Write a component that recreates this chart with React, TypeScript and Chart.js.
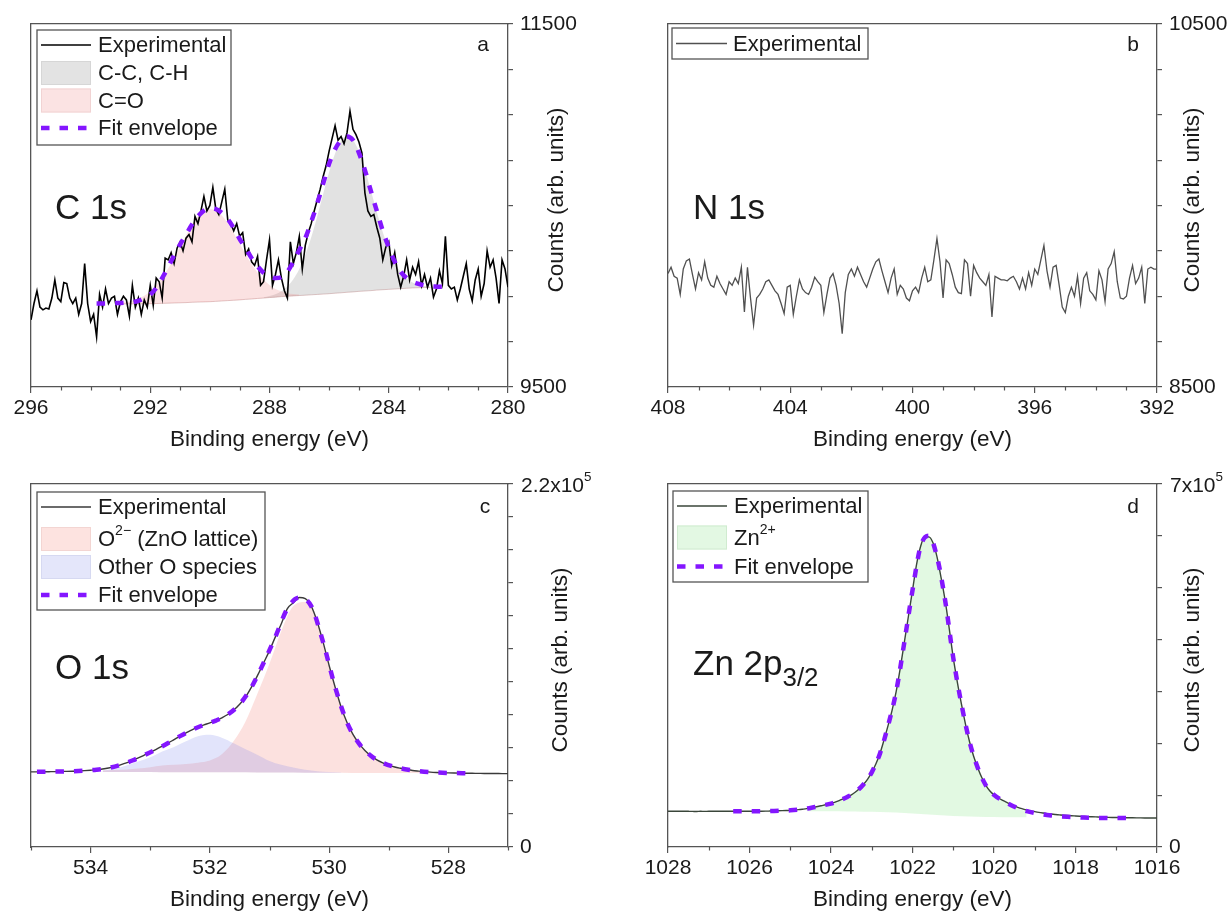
import React, { useEffect, useRef } from 'react';
import { Chart, registerables } from 'chart.js';
Chart.register(...registerables);

const FONT = '"Liberation Sans", Arial, Helvetica, sans-serif';
const AXIS = '#555555';
const TXT = '#1a1a1a';
const FIT = 'rgb(132, 22, 255)';

// ---------------- Panel a: C 1s ----------------
const C1S_EXP_START = 296.0;
const c1sExperimental = [
  9870, 9960, 10030, 9940, 9925, 9935, 9930, 9990, 10090, 9990,
  9970, 10075, 10070, 9990, 9960, 9990, 9900, 9960, 10180, 9960,
  9860, 9900, 9776, 10010, 9940, 10040, 9960, 9990, 10000, 9900,
  9970, 10000, 9980, 9890, 10060, 9940, 9990, 9900, 9980, 9940,
  10060, 9950, 10100, 10080, 9990, 10210, 10200, 10240, 10180, 10265,
  10300, 10250, 10320, 10340, 10300, 10440, 10400, 10470, 10550, 10470,
  10500, 10600, 10480, 10450, 10520, 10590, 10420, 10400, 10360, 10400,
  10330, 10350, 10230, 10260, 10190, 10170, 10220, 10060, 10080, 10200,
  10310, 10060, 10120, 10200, 10100, 10030, 9990, 10300, 10180, 10240,
  10330, 10150, 10280, 10350, 10400, 10470, 10530, 10590, 10660, 10720,
  10800, 10870, 10940, 10860, 10880, 10840, 10900, 11020, 10920, 10890,
  10850, 10790, 10570, 10470, 10440, 10450, 10380, 10320, 10200, 10270,
  10300, 10170, 10240, 10120, 10050, 10110, 10200, 10090, 10160, 10120,
  10190, 10060, 10120, 10050, 10100, 9995, 10040, 10140, 10070, 10330,
  10060, 10040, 10050, 9980, 10040, 10110, 10180, 10040, 9975, 10090,
  10150, 10000, 10070, 10250, 10160, 10200, 10100, 9960, 10200, 10150,
  10050,
];
const C1S_FIT_START = 293.8;
const c1sFit = [
  9960, 9960, 9960, 9962, 9963, 9965, 9968, 9975, 9990, 10010,
  10045, 10100, 10160, 10225, 10285, 10340, 10395, 10440, 10472, 10485,
  10480, 10460, 10425, 10375, 10315, 10265, 10210, 10165, 10130, 10110,
  10100, 10105, 10135, 10190, 10255, 10320, 10410, 10510, 10620, 10730,
  10810, 10860, 10880, 10860, 10790, 10695, 10580, 10470, 10360, 10270,
  10190, 10135, 10100, 10080, 10068, 10060, 10055, 10053, 10052, 10052,
];
const C1S_BG_START = 293.0;
const c1sBackground = [
  9958, 9958, 9958, 9958, 9958, 9959, 9960, 9961, 9962, 9963,
  9964, 9965, 9967, 9968, 9969, 9970, 9972, 9974, 9976, 9978,
  9980, 9983, 9985, 9988, 9990, 9993, 9995, 9998, 10000, 10002,
  10004, 10006, 10008, 10010, 10012, 10014, 10017, 10019, 10022, 10024,
  10027, 10029, 10031, 10034, 10036, 10038, 10040, 10042, 10044, 10046,
  10047, 10048, 10049,
];
const C1S_CO_START = 293.0;
const c1sCO = [
  9964, 9968, 9975, 9987, 10003, 10028, 10061, 10103, 10153, 10211,
  10274, 10335, 10393, 10439, 10469, 10480, 10472, 10445, 10402, 10348,
  10290, 10231, 10176, 10130, 10091, 10062, 10040, 10027, 10017, 10012,
  10010,
];
const C1S_CC_START = 288.2;
const c1sCC = [
  9994, 10001, 10011, 10028, 10054, 10093, 10150, 10228, 10325, 10440,
  10564, 10684, 10787, 10856, 10882, 10861, 10797, 10699, 10583, 10464,
  10353, 10260, 10186, 10133, 10098, 10076, 10063, 10056, 10053,
];

// ---------------- Panel b: N 1s ----------------
const N1S_EXP_START = 408.0;
const n1sExperimental = [
  9125, 9160, 9110, 9100, 9010, 9150, 9195, 9205, 9120, 9040,
  9130, 9090, 9190, 9100, 9060, 9050, 9110, 9070, 9040, 9010,
  9080, 9060, 9100, 9070, 9160, 8914, 9160, 8990, 8840, 8990,
  9010, 9040, 9080, 9090, 9060, 9030, 9010, 8960, 8905, 9050,
  9060, 8900, 9000, 9090, 9040, 9020, 9010, 9050, 9105, 9080,
  9060, 8910, 9010, 9100, 9125, 9060, 8960, 8794, 9020, 9120,
  9150, 9110, 9160, 9120, 9080, 9050, 9100, 9150, 9190, 9205,
  9140, 9080, 9020, 9100, 9150, 9010, 9060, 9040, 8990, 8975,
  9030, 9050, 9020, 9100, 9160, 9080, 9090, 9200, 9318, 9190,
  8990, 9200, 9180, 9120, 9050, 9020, 9015, 9200, 9180, 9000,
  9170, 9130, 9100, 9080, 9060, 9120, 8886, 9110, 9100, 9090,
  9090, 9085, 9100, 9110, 9080, 9040, 9100, 9040, 9130, 9060,
  9150, 9120, 9200, 9280, 9140, 9050, 9160, 9170, 9060, 8940,
  8910, 9000, 9050, 9000, 9110, 8960, 9100, 9130, 9030, 9010,
  8980, 9140, 9090, 8970, 9150, 9180, 9245, 9080, 8990, 8985,
  9000, 9100, 9170, 9070, 9100, 9160, 8960, 9150, 9160, 9150,
  9150,
];

// ---------------- Panel c: O 1s ----------------
const O1S_EXP_START = 535.0;
const o1sExperimental = [
  45500, 45550, 45600, 45650, 45700, 45780, 45850, 45950, 46100, 46300,
  46550, 46850, 47300, 47900, 48700, 49800, 51000, 52400, 54000, 55700,
  57400, 59200, 61100, 63000, 65100, 67200, 69100, 71000, 72700, 74000,
  75200, 76600, 78300, 80300, 83000, 86500, 91000, 97000, 104000, 111500,
  119000, 127500, 135500, 144500, 148000, 151200, 150500, 146000, 136500, 124000,
  110000, 97000, 85000, 75500, 68300, 62800, 58500, 55300, 52800, 51000,
  49600, 48500, 47700, 47000, 46400, 46000, 45650, 45350, 45150, 45000,
  44900, 44820, 44750, 44700, 44660, 44620, 44580, 44550, 44520, 44500,
  44480,
];
const O1S_FIT_START = 534.9;
const o1sFit = [
  45550, 45650, 45780, 45950, 46300, 46850, 47900, 49800, 52400, 55700,
  59200, 63000, 67200, 71000, 74000, 76600, 80300, 86500, 97000, 111500,
  127500, 144500, 151200, 146000, 124000, 97000, 75500, 62800, 55300, 51000,
  48500, 47000, 46000, 45350, 45000, 44820, 44700,
];
const O1S_BG_START = 533.8;
const o1sBackground = [
  45420, 45400, 45400, 45390, 45380, 45370, 45360, 45350, 45320, 45300,
  45280, 45260, 45230, 45190, 45150, 45120, 45080, 45050, 45020, 44980,
  44950, 44920, 44890, 44860, 44830, 44800, 44780, 44760, 44740, 44720,
];
const O1S_LATTICE_START = 533.8;
const o1sLattice = [
  46320, 46600, 47000, 47590, 48380, 49370, 49860, 50350, 51120, 52500,
  56280, 64260, 76230, 93190, 111150, 131120, 146080, 148550, 136020, 109480,
  84750, 68120, 58390, 52760, 49530, 47800, 46380, 45660, 45140, 44920,
];
const O1S_OTHER_START = 533.8;
const o1sOther = [
  46420, 47500, 49400, 51890, 54380, 57870, 60660, 64050, 67120, 68000,
  66280, 62860, 59230, 55790, 52150, 49820, 48180, 46850, 45920, 45380,
  45100,
];

// ---------------- Panel d: Zn 2p3/2 ----------------
const ZN_EXP_START = 1028.0;
const znExperimental = [
  68900, 68900, 68900, 68850, 68850, 68800, 68700, 68400, 68800, 68700,
  68850, 68800, 68850, 68850, 68850, 68850, 68850, 68850, 68870, 68890,
  68900, 68920, 68950, 69000, 69100, 69300, 69500, 69800, 70100, 70400,
  70700, 71300, 72000, 72900, 73900, 75400, 77000, 78500, 80300, 82000,
  83700, 86500, 89600, 93000, 96500, 100500, 106000, 113000, 121000, 131000,
  144000, 160000, 180000, 206000, 234000, 264000, 300000, 345000, 395000, 445000,
  495000, 545000, 580000, 598000, 598000, 587000, 560000, 520000, 476000, 422000,
  365000, 318000, 276000, 237000, 203000, 175000, 153000, 134000, 119000, 108000,
  100500, 95000, 90500, 86500, 82500, 79000, 76000, 73600, 71400, 69600,
  68100, 66700, 65500, 64400, 63500, 62700, 62000, 61300, 60700, 60200,
  59800, 59400, 59000, 58600, 58300, 58000, 57700, 57400, 57200, 57000,
  56800, 56650, 56500, 56400, 56300, 56200, 56100, 56050, 56000, 55980,
  55960,
];
const ZN_FIT_START = 1026.4;
const znFit = [
  68850, 68870, 68900, 68950, 69100, 69500, 70100, 70700, 72000, 73900,
  77000, 80300, 83700, 89600, 96500, 106000, 121000, 144000, 180000, 234000,
  300000, 395000, 495000, 580000, 600000, 560000, 476000, 365000, 276000, 203000,
  153000, 119000, 100500, 90000, 81500, 74500, 69200, 65500, 62800, 60800,
  59300, 58200, 57400, 56800, 56400, 56100, 55900, 55800, 55700, 55650,
];
const ZN_BG_START = 1024.6;
const znBackground = [
  69000, 68950, 68900, 68800, 68700, 68600, 68400, 68200, 67900, 67500,
  67000, 66300, 65500, 64500, 63500, 62500, 61500, 60600, 59800, 59200,
  58700, 58300, 58000, 57800, 57600, 57500, 57400, 57300,
];
const ZN_COMP_START = 1024.6;
const znComponent = [
  73000, 76000, 79500, 83000, 89000, 96000, 105500, 120500, 143500, 179500,
  233500, 299500, 394500, 494500, 579500, 599500, 559500, 475500, 364500, 275500,
  202500, 152500, 118500, 100000, 89500, 81000, 74000, 68500,
];

// ---------------- helpers ----------------
function series(start: number, step: number, vals: number[]) {
  return vals.map((v, i) => ({ x: Math.round((start - i * step) * 100) / 100, y: v }));
}

type Seg = { t: string; sup?: boolean; sub?: boolean };
type LegendRow = { kind: 'line' | 'box' | 'dash'; color: string; edge?: string; width?: number; y: number; label: Seg[] };
type Overlay = {
  legend: { x: number; y: number; w: number; h: number; sx0: number; sx1: number; tx: number; rows: LegendRow[] };
  letter: { t: string; x: number; y: number };
  big: { segs: Seg[]; x: number; y: number };
  xTitleY: number;
  yTitleX: number;
  yTitleY: number;
  topLabel?: Seg[];
};
type PanelCfg = {
  ox: number; oy: number; w: number; h: number;
  area: { l: number; t: number; r: number; b: number };
  xMin: number; xMax: number; xMajor: number;
  yMin: number; yMax: number; yStep: number;
  yLabel: (v: number) => string;
  datasets: any[];
  overlay: Overlay;
};

const isMajor = (v: number, major: number) => {
  const m = Math.abs(v % major);
  return m < 1e-6 || Math.abs(m - major) < 1e-6;
};

function drawSegs(ctx: CanvasRenderingContext2D, segs: Seg[], x: number, y: number, size: number) {
  let cx = x;
  for (const s of segs) {
    let fs = size;
    let dy = 0;
    if (s.sup) { fs = size * 0.64; dy = -size * 0.4; }
    if (s.sub) { fs = size * 0.74; dy = size * 0.3; }
    ctx.font = `${fs}px ${FONT}`;
    ctx.fillText(s.t, cx, y + dy);
    cx += ctx.measureText(s.t).width;
  }
}

function overlayPlugin(cfg: PanelCfg) {
  const o = cfg.overlay;
  return {
    id: 'overlay',
    afterDraw(chart: any) {
      const ctx: CanvasRenderingContext2D = chart.ctx;
      const a = chart.chartArea;
      const X = (v: number) => v - cfg.ox;
      const Y = (v: number) => v - cfg.oy;
      ctx.save();
      // minor ticks on the energy axis (shorter than the major ones)
      const xs = chart.scales.x;
      ctx.strokeStyle = AXIS;
      ctx.lineWidth = 1.2;
      for (let e = cfg.xMin; e <= cfg.xMax; e += 1) {
        if (isMajor(e, cfg.xMajor)) continue;
        const px = Math.round(xs.getPixelForValue(e)) + 0.5;
        ctx.beginPath();
        ctx.moveTo(px, a.bottom);
        ctx.lineTo(px, a.bottom + 3.5);
        ctx.stroke();
      }
      // legend box
      const L = o.legend;
      ctx.fillStyle = '#ffffff';
      ctx.fillRect(X(L.x), Y(L.y), L.w, L.h);
      ctx.strokeStyle = AXIS;
      ctx.lineWidth = 1.3;
      ctx.strokeRect(X(L.x), Y(L.y), L.w, L.h);
      for (const r of L.rows) {
        const y = Y(r.y);
        if (r.kind === 'box') {
          ctx.fillStyle = r.color;
          ctx.fillRect(X(L.sx0), y - 12, L.sx1 - L.sx0, 24);
          if (r.edge) {
            ctx.strokeStyle = r.edge;
            ctx.lineWidth = 1;
            ctx.strokeRect(X(L.sx0) + 0.5, y - 11.5, L.sx1 - L.sx0 - 1, 23);
          }
        } else {
          ctx.beginPath();
          ctx.strokeStyle = r.color;
          ctx.lineWidth = r.width || 1.5;
          if (r.kind === 'dash') ctx.setLineDash([8.5, 10]);
          ctx.moveTo(X(L.sx0), y);
          ctx.lineTo(X(L.sx1), y);
          ctx.stroke();
          ctx.setLineDash([]);
        }
        ctx.fillStyle = TXT;
        ctx.textBaseline = 'middle';
        ctx.textAlign = 'left';
        drawSegs(ctx, r.label, X(L.tx), y + 1, 22);
      }
      // panel letter
      ctx.fillStyle = TXT;
      ctx.textAlign = 'center';
      ctx.textBaseline = 'middle';
      ctx.font = `21px ${FONT}`;
      ctx.fillText(o.letter.t, X(o.letter.x), Y(o.letter.y));
      // big label
      ctx.textAlign = 'left';
      ctx.textBaseline = 'alphabetic';
      drawSegs(ctx, o.big.segs, X(o.big.x), Y(o.big.y), 35);
      // x title
      ctx.textAlign = 'center';
      ctx.textBaseline = 'middle';
      ctx.font = `22.5px ${FONT}`;
      ctx.fillText('Binding energy (eV)', (a.left + a.right) / 2, Y(o.xTitleY));
      // y title
      ctx.save();
      ctx.translate(X(o.yTitleX), Y(o.yTitleY));
      ctx.rotate(-Math.PI / 2);
      ctx.fillText('Counts (arb. units)', 0, 0);
      ctx.restore();
      // top y label with superscript
      if (o.topLabel) {
        ctx.textAlign = 'left';
        ctx.textBaseline = 'middle';
        drawSegs(ctx, o.topLabel, a.right + 13, a.top + 2, 21);
      }
      ctx.restore();
    },
  };
}

function buildConfig(cfg: PanelCfg): any {
  const border = { display: true, color: AXIS, width: 1.3 };
  const tickGrid = { display: true, drawOnChartArea: false, drawTicks: true, tickLength: 6, color: AXIS, lineWidth: 1.2 };
  const { l, t, r, b } = cfg.area;
  return {
    type: 'line',
    data: { datasets: cfg.datasets },
    plugins: [overlayPlugin(cfg)],
    options: {
      animation: false,
      responsive: false,
      devicePixelRatio: 1,
      events: [],
      layout: { padding: 0 },
      elements: { point: { radius: 0 } },
      plugins: { legend: { display: false }, tooltip: { enabled: false }, title: { display: false } },
      scales: {
        x: {
          type: 'linear', position: 'bottom', min: cfg.xMin, max: cfg.xMax, reverse: true,
          afterFit: (s: any) => { s.height = cfg.h - b; },
          ticks: {
            stepSize: 1, autoSkip: false, maxRotation: 0, maxTicksLimit: 100, padding: 3,
            color: TXT, font: { family: FONT, size: 21 },
            callback: (v: any) => (isMajor(Number(v), cfg.xMajor) ? String(v) : ''),
          },
          grid: {
            ...tickGrid,
            tickColor: (c: any) => (c.tick && isMajor(c.tick.value, cfg.xMajor) ? AXIS : 'rgba(0,0,0,0)'),
          },
          border,
        },
        xTop: {
          type: 'linear', position: 'top', min: cfg.xMin, max: cfg.xMax, reverse: true,
          afterFit: (s: any) => { s.height = t; },
          ticks: { display: false }, grid: { display: false }, border,
        },
        y: {
          type: 'linear', position: 'right', min: cfg.yMin, max: cfg.yMax,
          afterFit: (s: any) => { s.width = cfg.w - r; },
          ticks: {
            stepSize: cfg.yStep, autoSkip: false, maxTicksLimit: 100, padding: 7,
            color: TXT, font: { family: FONT, size: 21 },
            callback: (v: any) => cfg.yLabel(Number(v)),
          },
          grid: { ...tickGrid, tickLength: 5 }, border,
        },
        yLeft: {
          type: 'linear', position: 'left', min: cfg.yMin, max: cfg.yMax,
          afterFit: (s: any) => { s.width = l; },
          ticks: { display: false }, grid: { display: false }, border,
        },
      },
    },
  };
}

const NONE = 'rgba(0,0,0,0)';
const line = (data: any[], color: string, width: number, order: number, extra: any = {}) => ({
  data, borderColor: color, borderWidth: width, fill: false, order, pointRadius: 0, tension: 0, ...extra,
});
const fitLine = (data: any[]) => ({
  data, borderColor: FIT, borderWidth: 4.5, borderDash: [8.5, 10], fill: false, order: 0, pointRadius: 0,
  cubicInterpolationMode: 'monotone',
});
const area = (data: any[], color: string, target: number, order: number) => ({
  data, borderColor: NONE, borderWidth: 1, backgroundColor: color, fill: { target }, order, pointRadius: 0,
  cubicInterpolationMode: 'monotone',
});

const panels: PanelCfg[] = [
  {
    ox: 0, oy: 0, w: 615, h: 457,
    area: { l: 31, t: 24, r: 508, b: 387 },
    xMin: 280, xMax: 296, xMajor: 4,
    yMin: 9500, yMax: 11500, yStep: 250,
    yLabel: (v) => (v === 9500 || v === 11500 ? String(v) : ''),
    datasets: [
      line(series(C1S_BG_START, 0.2, c1sBackground), 'rgba(190,130,130,0.45)', 1, 4),
      area(series(C1S_CC_START, 0.2, c1sCC), 'rgba(150,150,150,0.28)', 0, 3),
      area(series(C1S_CO_START, 0.2, c1sCO), 'rgba(235,110,110,0.2)', 0, 2),
      line(series(C1S_EXP_START, 0.1, c1sExperimental), '#000000', 1.6, 1),
      fitLine(series(C1S_FIT_START, 0.2, c1sFit)),
    ],
    overlay: {
      legend: {
        x: 37, y: 30, w: 194, h: 115, sx0: 41, sx1: 91, tx: 98,
        rows: [
          { kind: 'line', color: '#000000', width: 1.6, y: 45, label: [{ t: 'Experimental' }] },
          { kind: 'box', color: '#e3e3e3', edge: '#d6d6d6', y: 73, label: [{ t: 'C-C, C-H' }] },
          { kind: 'box', color: '#fbe3e3', edge: '#f1d3d3', y: 100.5, label: [{ t: 'C=O' }] },
          { kind: 'dash', color: FIT, width: 4.5, y: 128, label: [{ t: 'Fit envelope' }] },
        ],
      },
      letter: { t: 'a', x: 483, y: 45 },
      big: { segs: [{ t: 'C 1s' }], x: 55, y: 219 },
      xTitleY: 440, yTitleX: 557, yTitleY: 200,
    },
  },
  {
    ox: 615, oy: 0, w: 616, h: 457,
    area: { l: 53, t: 24, r: 542, b: 387 },
    xMin: 392, xMax: 408, xMajor: 4,
    yMin: 8500, yMax: 10500, yStep: 250,
    yLabel: (v) => (v === 8500 || v === 10500 ? String(v) : ''),
    datasets: [
      line(series(N1S_EXP_START, 0.1, n1sExperimental), '#505050', 1.3, 1),
    ],
    overlay: {
      legend: {
        x: 672, y: 28, w: 196, h: 31, sx0: 676, sx1: 727, tx: 733,
        rows: [
          { kind: 'line', color: '#505050', width: 1.3, y: 43.5, label: [{ t: 'Experimental' }] },
        ],
      },
      letter: { t: 'b', x: 1133, y: 45 },
      big: { segs: [{ t: 'N 1s' }], x: 693, y: 219 },
      xTitleY: 440, yTitleX: 1193, yTitleY: 200,
    },
  },
  {
    ox: 0, oy: 457, w: 615, h: 457,
    area: { l: 31, t: 27, r: 508, b: 390 },
    xMin: 527, xMax: 535, xMajor: 2,
    yMin: 0, yMax: 220000, yStep: 20000,
    yLabel: (v) => (v === 0 ? '0' : ''),
    datasets: [
      line(series(O1S_BG_START, 0.2, o1sBackground), NONE, 1, 4),
      area(series(O1S_LATTICE_START, 0.2, o1sLattice), 'rgba(240,120,110,0.22)', 0, 3),
      area(series(O1S_OTHER_START, 0.2, o1sOther), 'rgba(110,120,235,0.2)', 0, 2),
      line(series(O1S_EXP_START, 0.1, o1sExperimental), '#3a3a3a', 1.4, 1, { cubicInterpolationMode: 'monotone' }),
      fitLine(series(O1S_FIT_START, 0.2, o1sFit)),
    ],
    overlay: {
      legend: {
        x: 37, y: 492, w: 228, h: 118, sx0: 41, sx1: 91, tx: 98,
        rows: [
          { kind: 'line', color: '#3a3a3a', width: 1.4, y: 507, label: [{ t: 'Experimental' }] },
          { kind: 'box', color: '#fde3e0', edge: '#f3d5d2', y: 539, label: [{ t: 'O' }, { t: '2\u2212', sup: true }, { t: ' (ZnO lattice)' }] },
          { kind: 'box', color: '#e4e6fa', edge: '#d6d9f1', y: 567, label: [{ t: 'Other O species' }] },
          { kind: 'dash', color: FIT, width: 4.5, y: 595, label: [{ t: 'Fit envelope' }] },
        ],
      },
      letter: { t: 'c', x: 485, y: 507 },
      big: { segs: [{ t: 'O 1s' }], x: 55, y: 679 },
      xTitleY: 900, yTitleX: 561, yTitleY: 660,
      topLabel: [{ t: '2.2x10' }, { t: '5', sup: true }],
    },
  },
  {
    ox: 615, oy: 457, w: 616, h: 457,
    area: { l: 53, t: 27, r: 542, b: 390 },
    xMin: 1016, xMax: 1028, xMajor: 2,
    yMin: 0, yMax: 700000, yStep: 100000,
    yLabel: (v) => (v === 0 ? '0' : ''),
    datasets: [
      line(series(ZN_BG_START, 0.2, znBackground), NONE, 1, 4),
      area(series(ZN_COMP_START, 0.2, znComponent), 'rgba(110,225,110,0.2)', 0, 2),
      line(series(ZN_EXP_START, 0.1, znExperimental), '#3a463a', 1.4, 1, { cubicInterpolationMode: 'monotone' }),
      fitLine(series(ZN_FIT_START, 0.2, znFit)),
    ],
    overlay: {
      legend: {
        x: 673, y: 491, w: 195, h: 91, sx0: 677, sx1: 727, tx: 734,
        rows: [
          { kind: 'line', color: '#3a463a', width: 1.4, y: 506, label: [{ t: 'Experimental' }] },
          { kind: 'box', color: '#e3f8e3', edge: '#d0ebd0', y: 537.5, label: [{ t: 'Zn' }, { t: '2+', sup: true }] },
          { kind: 'dash', color: FIT, width: 4.5, y: 566.5, label: [{ t: 'Fit envelope' }] },
        ],
      },
      letter: { t: 'd', x: 1133, y: 507 },
      big: { segs: [{ t: 'Zn 2p' }, { t: '3/2', sub: true }], x: 693, y: 675 },
      xTitleY: 900, yTitleX: 1193, yTitleY: 660,
      topLabel: [{ t: '7x10' }, { t: '5', sup: true }],
    },
  },
];

function Panel({ cfg }: { cfg: PanelCfg }) {
  const ref = useRef<HTMLCanvasElement>(null);
  useEffect(() => {
    if (!ref.current) return;
    const chart = new Chart(ref.current, buildConfig(cfg));
    return () => chart.destroy();
  }, [cfg]);
  return (
    <canvas
      ref={ref}
      width={cfg.w}
      height={cfg.h}
      style={{ position: 'absolute', left: cfg.ox, top: cfg.oy, width: cfg.w, height: cfg.h }}
    />
  );
}

export default function App() {
  return (
    <div style={{ position: 'absolute', left: 0, top: 0, width: 1231, height: 914, background: '#ffffff', overflow: 'hidden' }}>
      {panels.map((p, i) => (
        <Panel key={i} cfg={p} />
      ))}
    </div>
  );
}
